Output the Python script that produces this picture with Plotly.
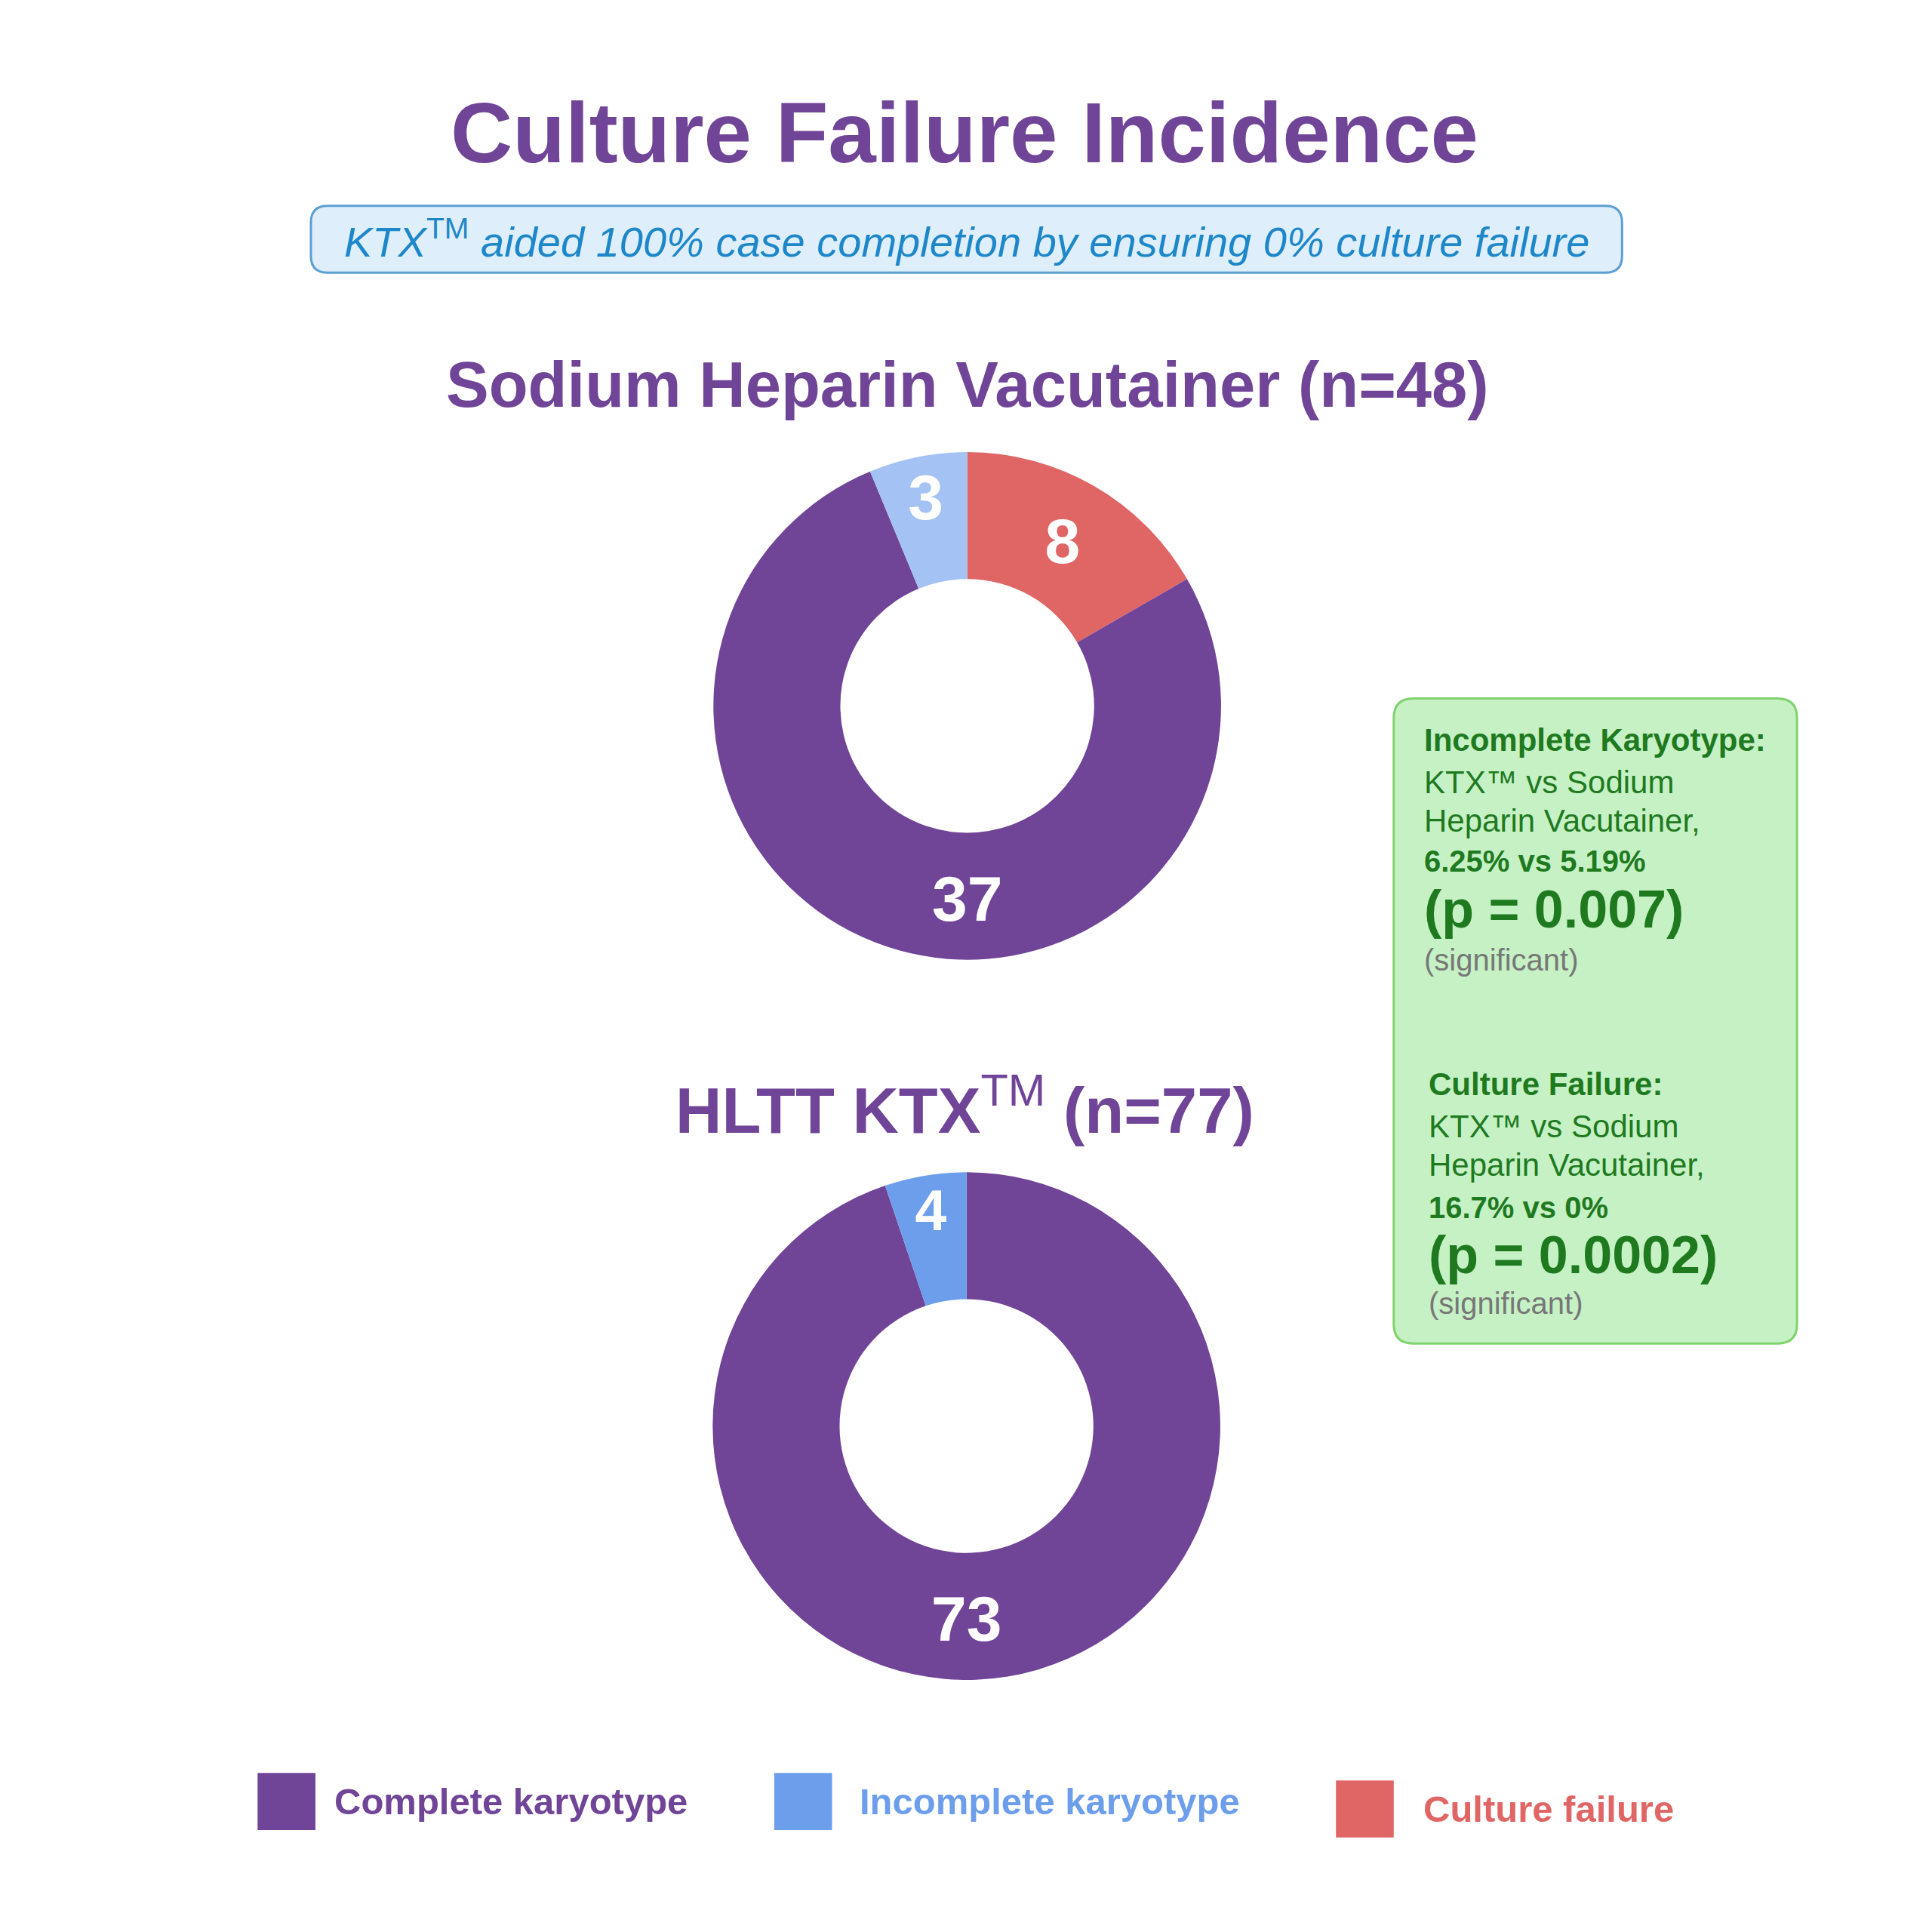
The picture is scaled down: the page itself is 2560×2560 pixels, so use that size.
import plotly.graph_objects as go

# data
sodium_labels = ["Culture failure", "Complete karyotype", "Incomplete karyotype"]
sodium_values = [8, 37, 3]
ktx_labels = ["Complete karyotype", "Incomplete karyotype"]
ktx_values = [73, 4]

legend_labels = ["Complete karyotype", "Incomplete karyotype", "Culture failure"]

PURPLE = "#704598"
BLUE = "#6d9eeb"
LIGHT_BLUE = "#a4c2f4"
RED = "#e06666"
GREEN_TXT = "#1f7a1f"
FONT = "Liberation Sans"
W = 2560

sodium_colors = [RED, PURPLE, LIGHT_BLUE]
ktx_colors = [PURPLE, BLUE]
legend_colors = [PURPLE, BLUE, RED]


# page pixel -> paper coords (small fix for page margin)
def t(v):
    return (v - 8) / 1.005


def px(x):
    return t(x) / W


def py_(y):
    return 1 - t(y) / W


def donut(labels, values, colors, cx, cy, r, big):
    # the biggest slice gets its number at the bottom of the ring (annotation below)
    pos = ["none" if i == big else "inside" for i in range(len(values))]
    return go.Pie(
        labels=labels, values=values, hole=0.5, sort=False,
        direction="clockwise", rotation=0,
        marker=dict(colors=colors, line=dict(width=0)),
        textinfo="value", textposition=pos,
        insidetextorientation="horizontal",
        textfont=dict(family=FONT, size=84, color="white", weight="bold"),
        domain=dict(x=[px(cx - r), px(cx + r)], y=[py_(cy + r), py_(cy - r)]),
        hoverinfo="label+value",
    )


fig = go.Figure()
fig.add_trace(donut(sodium_labels, sodium_values, sodium_colors, 1288, 940, 338, 1))
fig.add_trace(donut(ktx_labels, ktx_values, ktx_colors, 1287, 1899, 338, 0))


def rounded_box(x0, y0, x1, y1, r):
    X0, X1 = px(x0), px(x1)
    Y0, Y1 = py_(y0), py_(y1)  # Y0 top
    rr = r / W
    return (f"M{X0 + rr},{Y0} L{X1 - rr},{Y0} Q{X1},{Y0} {X1},{Y0 - rr} "
            f"L{X1},{Y1 + rr} Q{X1},{Y1} {X1 - rr},{Y1} L{X0 + rr},{Y1} "
            f"Q{X0},{Y1} {X0},{Y1 + rr} L{X0},{Y0 - rr} Q{X0},{Y0} {X0 + rr},{Y0} Z")


shapes = [
    dict(type="path", xref="paper", yref="paper", path=rounded_box(414, 274, 2160, 363, 22),
         fillcolor="#deeefa", line=dict(color="#5b9fd3", width=3), layer="below"),
    dict(type="path", xref="paper", yref="paper", path=rounded_box(1856, 930, 2393, 1789, 26),
         fillcolor="#c5f1c5", line=dict(color="#7fd36d", width=3), layer="below"),
]

ann = []


def text(x, y, s, size, color, bold=False, italic=False, anchor="center"):
    ann.append(dict(
        x=px(x), y=py_(y), xref="paper", yref="paper", text=s, showarrow=False,
        xanchor=anchor, yanchor="middle",
        font=dict(family=FONT, size=size, color=color,
                  weight="bold" if bold else "normal",
                  style="italic" if italic else "normal"),
    ))


TM = "<sup><span style='font-weight:normal;font-style:normal'>TM</span></sup>"

text(1284, 176, "Culture Failure Incidence", 114, PURPLE, bold=True)
text(1287, 318, "KTX" + TM + " aided 100% case completion by ensuring 0% culture failure",
     56, "#1d87c9", italic=True)
text(1288, 512, "Sodium Heparin Vacutainer (n=48)", 85, PURPLE, bold=True)
text(1285, 1472, "HLTT KTX" + TM + " (n=77)", 85, PURPLE, bold=True)

# numbers of the biggest slices, bottom of each ring
text(1288, 940 + 0.76 * 338, str(sodium_values[1]), 84, "white", bold=True)
text(1287, 1899 + 0.76 * 338, str(ktx_values[0]), 84, "white", bold=True)

# stats box
text(1894, 985, "Incomplete Karyotype:", 42, GREEN_TXT, bold=True, anchor="left")
text(1894, 1042, "KTX™ vs Sodium", 42, GREEN_TXT, anchor="left")
text(1894, 1093, "Heparin Vacutainer,", 42, GREEN_TXT, anchor="left")
text(1894, 1147, "6.25% vs 5.19%", 40, GREEN_TXT, bold=True, anchor="left")
text(1894, 1211, "(p = 0.007)", 70, GREEN_TXT, bold=True, anchor="left")
text(1894, 1278, "(significant)", 40, "#777777", anchor="left")

text(1900, 1444, "Culture Failure:", 42, GREEN_TXT, bold=True, anchor="left")
text(1900, 1500, "KTX™ vs Sodium", 42, GREEN_TXT, anchor="left")
text(1900, 1551, "Heparin Vacutainer,", 42, GREEN_TXT, anchor="left")
text(1900, 1608, "16.7% vs 0%", 40, GREEN_TXT, bold=True, anchor="left")
text(1900, 1671, "(p = 0.0002)", 70, GREEN_TXT, bold=True, anchor="left")
text(1900, 1736, "(significant)", 40, "#777777", anchor="left")

# legend
legend_pos = [(343, 2399, 100), (1031, 2399, 112), (1779, 2409, 114)]
for lab, col, (lx, ly, gap) in zip(legend_labels, legend_colors, legend_pos):
    shapes.append(dict(type="rect", xref="paper", yref="paper",
                       x0=px(lx), x1=px(lx + 77), y0=py_(ly + 38), y1=py_(ly - 38),
                       fillcolor=col, line=dict(width=0)))
    text(lx + gap, ly, lab, 49, col, bold=True, anchor="left")

fig.update_layout(
    width=2560, height=2560,
    margin=dict(l=0, r=0, t=0, b=0),
    paper_bgcolor="white", plot_bgcolor="white",
    showlegend=False,
    shapes=shapes, annotations=ann,
)

fig.write_html("out.html")
